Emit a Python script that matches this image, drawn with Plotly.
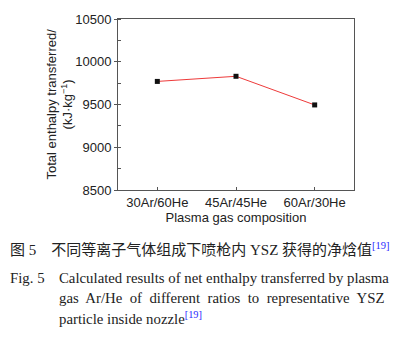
import plotly.graph_objects as go

categories = ["30Ar/60He", "45Ar/45He", "60Ar/30He"]
enthalpy = [9770, 9830, 9495]
y_ticks = [8500, 9000, 9500, 10000, 10500]

W, H = 409, 346
L, R, T, B = 118, 354, 16, 190

def px(x):
    return (x - L) / (R - L)

def py(y):
    return (B - y) / (B - T)

fig = go.Figure()
fig.add_trace(go.Scatter(
    x=categories, y=enthalpy, mode="lines+markers",
    line=dict(color="#ee3a3a", width=1),
    marker=dict(symbol="square", size=5, color="#111111"),
    showlegend=False, cliponaxis=False,
))

axis_font = dict(family="Liberation Sans, Arial", size=13, color="#222222")
fig.update_xaxes(
    range=[-0.5, 2.5], showline=True, linecolor="#555555", linewidth=1, mirror=True,
    ticks="inside", ticklen=3, tickcolor="#555555", showgrid=False, zeroline=False,
    tickfont=axis_font,
    title=dict(text="Plasma gas composition", font=axis_font, standoff=1),
)
fig.update_yaxes(
    range=[8500, 10500], tickvals=y_ticks, tickformat="d", showline=True,
    linecolor="#555555", linewidth=1,
    mirror=True, ticks="outside", ticklen=3, tickcolor="#555555", showgrid=False,
    zeroline=False, tickfont=axis_font,
    minor=dict(ticks="inside", ticklen=3, dtick=250, tickcolor="#555555"),
)

ann = []
ann.append(dict(text="Total enthalpy transferred/<br>(kJ·kg<sup>−1</sup>)", textangle=-90,
                x=px(59), y=py(103), xref="paper", yref="paper", showarrow=False,
                font=axis_font, xanchor="center", yanchor="middle"))

serif = "Liberation Serif, Times New Roman, Noto Sans CJK SC"
cap_font = dict(family=serif, size=15, color="#222222")
ann.append(dict(text="图 5\u00a0\u00a0\u00a0\u00a0不同等离子气体组成下喷枪内 YSZ 获得的净焓值<sup><span style='color:#2a2aff'>[19]</span></sup>",
                x=px(8), y=py(250), xref="paper", yref="paper", showarrow=False,
                font=cap_font, xanchor="left", yanchor="middle"))
en_font = dict(family=serif, size=14.8, color="#222222")
ann.append(dict(text="Fig. 5", x=px(8), y=py(280), xref="paper", yref="paper",
                showarrow=False, font=en_font, xanchor="left", yanchor="middle"))
lines = [
    ("Calculated results of net enthalpy transferred by plasma", 280),
    ("gas\u00a0 Ar/He\u00a0 of\u00a0 different\u00a0 ratios\u00a0 to\u00a0 representative\u00a0 YSZ", 300),
    ("particle inside nozzle<sup><span style='color:#2a2aff'>[19]</span></sup>", 320),
]
for t, yy in lines:
    ann.append(dict(text=t, x=px(57), y=py(yy), xref="paper", yref="paper",
                    showarrow=False, font=en_font, xanchor="left", yanchor="middle"))

fig.update_layout(
    width=W, height=H, margin=dict(l=L, r=W - R, t=T, b=H - B),
    paper_bgcolor="white", plot_bgcolor="white", annotations=ann,
)
fig.write_html("out.html")
